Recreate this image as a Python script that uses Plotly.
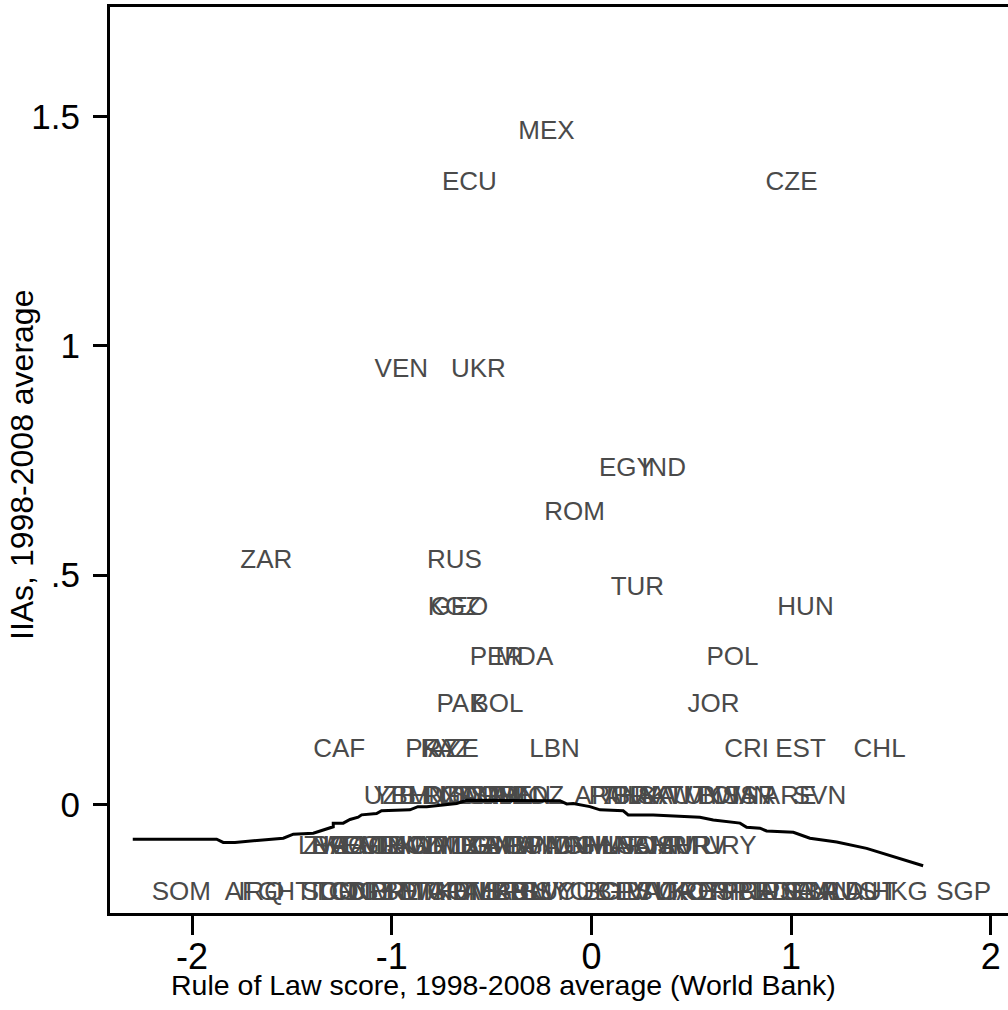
import plotly.graph_objects as go

# ---------------- data ----------------
# Upper, well separated labels
top_codes = ["MEX", "ECU", "CZE", "VEN", "UKR", "EGY", "IND", "ROM", "ZAR", "RUS",
             "TUR", "KGZ", "GEO", "HUN", "PER", "MDA", "POL", "PAK", "BOL", "JOR",
             "CAF", "PRY", "KAZ", "AZE", "LBN", "CRI", "EST", "CHL"]
top_rol = [-0.225, -0.611, 1.002, -0.952, -0.566, 0.175, 0.361, -0.085, -1.628, -0.686,
           0.230, -0.686, -0.661, 1.072, -0.476, -0.336, 0.706, -0.651, -0.471, 0.611,
           -1.263, -0.800, -0.730, -0.690, -0.185, 0.777, 1.047, 1.443]
top_iia = [1.465, 1.355, 1.355, 0.947, 0.947, 0.731, 0.731, 0.635, 0.530, 0.530,
           0.471, 0.428, 0.428, 0.428, 0.318, 0.318, 0.318, 0.215, 0.215, 0.215,
           0.117, 0.117, 0.117, 0.117, 0.117, 0.117, 0.117, 0.117]

# Row at IIAs ~ 0
row0_codes = ["UZB", "YEM", "BLR", "HND", "DZA", "NIC", "GTM", "SYR", "DOM", "SWZ",
              "PHL", "IRN", "SEN", "MOZ", "ARG", "PAN", "THA", "BRA", "LKA", "SAU",
              "KWT", "TUN", "MYS", "BWA", "OMN", "ISR", "ARE", "SVN"]
row0_rol = [-1.010, -0.950, -0.880, -0.770, -0.705, -0.651, -0.611, -0.561, -0.511, -0.461,
            -0.421, -0.381, -0.336, -0.281, 0.055, 0.115, 0.180, 0.240, 0.301, 0.366,
            0.441, 0.516, 0.601, 0.681, 0.751, 0.817, 0.992, 1.142]
row0_iia = 0.014

# Row at IIAs ~ -0.09
row1_codes = ["LBR", "ZWE", "NGA", "KEN", "AGO", "CMR", "GIN", "TJK", "LAO", "BGD",
              "MLI", "NPL", "ZMB", "MDG", "TZA", "BEN", "GMB", "BFA", "MWI", "UGA",
              "MNG", "PNG", "IDN", "VNM", "CHN", "GHA", "MAR", "LSO", "NAM", "BHR",
              "JAM", "SUR", "HRV", "URY"]
row1_rol = [-1.343, -1.300, -1.263, -1.212, -1.162, -1.102, -1.047, -0.987, -0.937, -0.877,
            -0.822, -0.762, -0.701, -0.646, -0.586, -0.526, -0.471, -0.411, -0.351, -0.296,
            -0.235, -0.180, -0.120, -0.060, 0.000, 0.060, 0.125, 0.190, 0.266, 0.341,
            0.401, 0.466, 0.541, 0.691]
row1_iia = -0.095

# Row at IIAs ~ -0.19
row2_codes = ["SOM", "AFG", "IRQ", "HTI", "SDN", "TCD", "COG", "GNB", "CIV", "NER",
              "ERI", "BDI", "RWA", "ETH", "TGO", "MRT", "KHM", "BIH", "ALB", "MKD",
              "SRB", "ARM", "SLV", "GUY", "SYC", "CUB", "BGR", "CPV", "LVA", "LTU",
              "SVK", "ITA", "GRC", "KOR", "CYP", "ESP", "PRT", "FRA", "BEL", "JPN",
              "USA", "DEU", "GBR", "CAN", "NLD", "AUS", "AUT", "HKG", "SGP"]
row2_rol = [-2.054, -1.703, -1.653, -1.473, -1.313, -1.263, -1.212, -1.162, -1.112, -1.062,
            -1.002, -0.942, -0.882, -0.822, -0.762, -0.701, -0.641, -0.581, -0.521, -0.461,
            -0.401, -0.341, -0.281, -0.220, -0.150, -0.035, 0.100, 0.165, 0.230, 0.291,
            0.351, 0.416, 0.481, 0.541, 0.601, 0.666, 0.731, 0.792, 0.852, 0.917,
            0.982, 1.042, 1.102, 1.167, 1.232, 1.293, 1.403, 1.543, 1.864]
row2_iia = -0.194

# Smoothed (lowess-type) line
fit_x = [-2.297, -1.877, -1.844, -1.785, -1.543, -1.493, -1.393, -1.360, -1.293, -1.293,
         -1.243, -1.209, -1.168, -1.151, -1.076, -1.051, -0.909, -0.869, -0.825, -0.675,
         -0.625, -0.158, -0.124, -0.091, -0.008, 0.043, 0.159, 0.184, 0.309, 0.543,
         0.610, 0.744, 0.777, 0.844, 0.877, 1.011, 1.094, 1.228, 1.378, 1.661]
fit_y = [-0.076, -0.076, -0.083, -0.083, -0.074, -0.065, -0.063, -0.058, -0.049, -0.041,
         -0.041, -0.033, -0.028, -0.023, -0.020, -0.014, -0.012, -0.005, -0.005, 0.002,
         0.009, 0.008, 0.001, 0.002, -0.005, -0.012, -0.014, -0.023, -0.023, -0.028,
         -0.034, -0.041, -0.050, -0.052, -0.058, -0.061, -0.074, -0.082, -0.096, -0.134]

x_ticks = [-2, -1, 0, 1, 2]
x_tick_text = ["-2", "-1", "0", "1", "2"]
y_ticks = [0, 0.5, 1, 1.5]
y_tick_text = ["0", ".5", "1", "1.5"]
x_title = "Rule of Law score, 1998-2008 average (World Bank)"
y_title = "IIAs, 1998-2008 average"

# ---------------- figure ----------------
FONT = "Liberation Sans, Arial, Helvetica, sans-serif"
LABEL_COLOR = "#4a4a4a"
LABEL_SIZE = 26

fig = go.Figure()

all_codes = top_codes + row0_codes + row1_codes + row2_codes
all_x = top_rol + row0_rol + row1_rol + row2_rol
all_y = (top_iia + [row0_iia] * len(row0_codes) + [row1_iia] * len(row1_codes)
         + [row2_iia] * len(row2_codes))

fig.add_trace(go.Scatter(
    x=all_x, y=all_y, text=all_codes, mode="text",
    textposition="middle center",
    textfont=dict(family=FONT, size=LABEL_SIZE, color=LABEL_COLOR),
    hoverinfo="text", showlegend=False, cliponaxis=False,
))

fig.add_trace(go.Scatter(
    x=fit_x, y=fit_y, mode="lines",
    line=dict(color="black", width=3),
    hoverinfo="skip", showlegend=False,
))

fig.update_layout(
    width=1008, height=1010,
    margin=dict(l=110, r=0, t=7, b=97),
    paper_bgcolor="white", plot_bgcolor="white",
    font=dict(family=FONT, color="black"),
)

fig.update_xaxes(
    range=[-2.411, 2.086], tickvals=x_ticks, ticktext=x_tick_text,
    showline=True, linewidth=3, linecolor="black", mirror=True,
    ticks="outside", ticklen=19, tickwidth=3, tickcolor="black",
    ticklabelstandoff=-9,
    tickfont=dict(size=36, family=FONT, color="black"),
    showgrid=False, zeroline=False,
)
fig.update_yaxes(
    range=[-0.237, 1.739], tickvals=y_ticks, ticktext=y_tick_text,
    showline=True, linewidth=3, linecolor="black", mirror=False,
    ticks="outside", ticklen=14, tickwidth=3, tickcolor="black",
    ticklabelstandoff=6,
    tickfont=dict(size=35, family=FONT, color="black"),
    showgrid=False, zeroline=False,
)

# axis titles (placed as in the reference: x title centred on the whole image)
fig.add_annotation(
    text=x_title, xref="paper", yref="paper",
    x=(503 - 110) / 898, y=-(985 - 913) / 906,
    xanchor="center", yanchor="middle", showarrow=False,
    font=dict(size=28.5, family=FONT, color="black"),
)
fig.add_annotation(
    text=y_title, xref="paper", yref="paper",
    x=-(110 - 22) / 898, y=(913 - 465) / 906,
    xanchor="center", yanchor="middle", showarrow=False, textangle=-90,
    font=dict(size=32, family=FONT, color="black"),
)

fig.write_html("out.html")
